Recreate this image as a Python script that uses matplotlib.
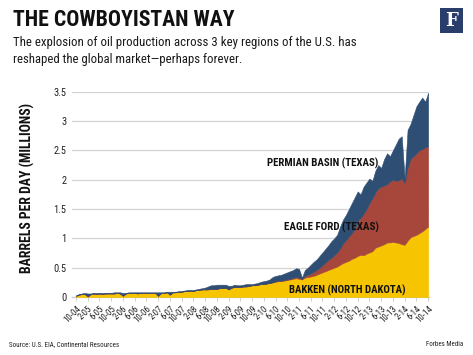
import matplotlib
matplotlib.use("Agg")
import matplotlib.pyplot as plt
from matplotlib import font_manager as fm
from matplotlib.patches import Rectangle

# ---------------- data (million barrels per day, monthly 10-04 .. 10-14) ----------------
tick_labels = ["10-04", "2-05", "6-05", "10-05", "2-06", "6-06", "10-06", "2-07", "6-07",
               "10-07", "2-08", "6-08", "10-08", "2-09", "6-09", "10-09", "2-10", "6-10",
               "10-10", "2-11", "6-11", "10-11", "2-12", "6-12", "10-12", "2-13", "6-13",
               "10-13", "2-14", "6-14", "10-14"]

bakken = [
    0.02, 0.04, 0.05, 0.05, 0.01, 0.05, 0.06, 0.05, 0.06, 0.05, 0.06, 0.06,
    0.06, 0.06, 0.07, 0.06, 0.02, 0.06, 0.07, 0.07, 0.07, 0.06, 0.07, 0.07,
    0.07, 0.07, 0.07, 0.07, 0.02, 0.07, 0.07, 0.08, 0.04, 0.08, 0.08, 0.09,
    0.09, 0.10, 0.10, 0.11, 0.10, 0.12, 0.12, 0.13, 0.13, 0.13, 0.14, 0.14,
    0.14, 0.15, 0.15, 0.16, 0.13, 0.16, 0.17, 0.17, 0.17, 0.18, 0.18, 0.19,
    0.20, 0.20, 0.21, 0.22, 0.22, 0.23, 0.24, 0.25, 0.26, 0.27, 0.27, 0.28,
    0.29, 0.30, 0.31, 0.32, 0.31, 0.30, 0.33, 0.34, 0.35, 0.36, 0.38, 0.40,
    0.42, 0.44, 0.46, 0.48, 0.50, 0.52, 0.55, 0.58, 0.60, 0.62, 0.65, 0.67,
    0.70, 0.72, 0.71, 0.74, 0.76, 0.78, 0.84, 0.86, 0.88, 0.90, 0.93, 0.93,
    0.94, 0.93, 0.92, 0.90, 0.89, 0.96, 1.02, 1.04, 1.06, 1.09, 1.12, 1.16, 1.20]

eagle_ford = [
    0, 0, 0, 0, 0, 0, 0, 0, 0, 0, 0, 0,
    0, 0, 0, 0, 0, 0, 0, 0, 0, 0, 0, 0,
    0, 0, 0, 0, 0, 0, 0, 0, 0, 0, 0, 0,
    0, 0, 0, 0, 0, 0, 0, 0, 0, 0, 0, 0,
    0, 0, 0, 0, 0, 0, 0, 0, 0, 0, 0, 0,
    0, 0, 0, 0, 0, 0, 0, 0, 0.01, 0.01, 0.01, 0.01,
    0.01, 0.01, 0.02, 0.02, 0.02, 0.01, 0.03, 0.04, 0.05, 0.07, 0.08, 0.10,
    0.12, 0.15, 0.17, 0.19, 0.21, 0.24, 0.28, 0.33, 0.37, 0.41, 0.44, 0.48,
    0.60, 0.63, 0.71, 0.76, 0.84, 0.90, 0.94, 0.99, 1.00, 1.00, 0.99, 1.04,
    1.06, 1.05, 1.07, 1.12, 1.05, 1.24, 1.34, 1.36, 1.39, 1.41, 1.40, 1.39, 1.37]

permian = [
    0.01, 0.01, 0.01, 0.02, 0.05, 0.01, 0.01, 0.02, 0.01, 0.02, 0.01, 0.01,
    0.01, 0.02, 0.01, 0.02, 0.05, 0.01, 0.01, 0.01, 0.01, 0.02, 0.01, 0.01,
    0.01, 0.01, 0.01, 0.01, 0.06, 0.01, 0.01, 0.01, 0.05, 0.01, 0.01, 0.01,
    0.01, 0.01, 0.02, 0.01, 0.02, 0.01, 0.02, 0.02, 0.03, 0.05, 0.06, 0.06,
    0.07, 0.06, 0.06, 0.05, 0.06, 0.03, 0.04, 0.03, 0.03, 0.03, 0.04, 0.03,
    0.02, 0.03, 0.03, 0.04, 0.05, 0.05, 0.06, 0.09, 0.09, 0.09, 0.10, 0.11,
    0.12, 0.13, 0.13, 0.15, 0.15, 0.02, 0.10, 0.12, 0.15, 0.17, 0.18, 0.20,
    0.22, 0.23, 0.25, 0.28, 0.29, 0.30, 0.37, 0.41, 0.43, 0.47, 0.51, 0.55,
    0.50, 0.40, 0.46, 0.45, 0.42, 0.30, 0.37, 0.40, 0.32, 0.45, 0.53, 0.43,
    0.50, 0.62, 0.71, 0.72, 0.08, 0.65, 0.59, 0.70, 0.80, 0.83, 0.88, 0.78, 0.91]

y_ticks = [0, 0.5, 1, 1.5, 2, 2.5, 3, 3.5]
y_tick_labels = ["0", "0.5", "1", "1.5", "2", "2.5", "3", "3.5"]

months = list(range(len(bakken)))
tick_pos = months[::4]

# ---------------- fonts ----------------
names = {f.name for f in fm.fontManager.ttflist}
cond = None
for n in ["Roboto Condensed", "Liberation Sans Narrow", "Open Sans Condensed", "Noto Sans Condensed"]:
    if n in names:
        cond = n
        break
has_dv_cond = any(f.name == "DejaVu Sans" and f.stretch == "condensed" for f in fm.fontManager.ttflist)
if cond is None:
    cond = "DejaVu Sans"
STRETCH = "condensed" if (cond == "DejaVu Sans" and has_dv_cond) else "normal"
plt.rcParams["font.family"] = [cond, "DejaVu Sans"]

W, H = 473, 355
fig = plt.figure(figsize=(W / 100, H / 100), dpi=100)
fig.patch.set_facecolor("white")


def fx(px):
    return px / W


def fy(py):
    return 1 - py / H


# axes: left gridline start x=72, m=120 at x=428; y=0 at 297, 3.5 at 91.7
ax_l, ax_r, ax_b, ax_t = 72, 429, 297, 91.7
ax_w = (ax_r - ax_l) / W
ax = fig.add_axes([fx(ax_l), fy(ax_b), ax_w, (ax_b - ax_t) / H])

YEL, RED, BLU = "#F6C400", "#A7463A", "#2E4E73"
ax.stackplot(months, bakken, eagle_ford, permian, colors=[YEL, RED, BLU],
             linewidth=0.4, edgecolor="face", zorder=3)

ax.set_ylim(0, 3.5)
ax.set_xlim(-1.36, 120.3)
ax.set_yticks(y_ticks)
ax.set_yticklabels(y_tick_labels)
ax.yaxis.grid(True, color="#d4d4d4", linewidth=0.9, zorder=0)
ax.set_axisbelow(True)
for sp in ["left", "right", "top"]:
    ax.spines[sp].set_visible(False)
ax.spines["bottom"].set_color("#c8c8c8")
ax.spines["bottom"].set_linewidth(0.9)
ax.tick_params(axis="y", length=0, pad=4, labelsize=7.5, labelcolor="#222222")
ax.set_xticks(tick_pos)
ax.set_xticklabels(tick_labels, rotation=45, ha="right", va="top",
                   rotation_mode="anchor", fontsize=6.4, color="#222222")
ax.tick_params(axis="x", length=3, width=0.6, color="#c8c8c8", pad=2)
for lab in ax.get_xticklabels() + ax.get_yticklabels():
    lab.set_fontstretch(STRETCH)

ax.set_ylabel("BARRELS PER DAY (MILLIONS)", fontsize=9.5, fontweight="bold",
              fontstretch=STRETCH, color="#111111", va="center")
ax.yaxis.set_label_coords((27.5 - ax_l) / (ax_r - ax_l), (297 - 187.5) / (ax_b - ax_t))


# annotations (data coordinates)
def lab(x, y, s):
    return ax.text(x, y, s, fontsize=7.5, fontweight="bold", fontstretch=STRETCH,
                   color="#111111", ha="left", va="center", zorder=5)


t_perm = lab(65.1, 2.28, "PERMIAN BASIN (TEXAS)")
t_eagle = lab(70.8, 1.19, "EAGLE FORD (TEXAS)")
t_bak = lab(72.6, 0.12, "BAKKEN (NORTH DAKOTA)")

# header texts
title = fig.text(fx(13), fy(26), "THE COWBOYISTAN WAY", fontsize=18, fontweight="bold",
                 fontstretch=STRETCH, color="#111111", ha="left", va="baseline")
sub1 = fig.text(fx(13), fy(46), "The explosion of oil production across 3 key regions of the U.S. has",
                fontsize=10, fontstretch=STRETCH, color="#1a1a1a", ha="left", va="baseline")
sub2 = fig.text(fx(13), fy(63.5), "reshaped the global market\u2014perhaps forever.",
                fontsize=10, fontstretch=STRETCH, color="#1a1a1a", ha="left", va="baseline")
src = fig.text(fx(9), fy(345), "Source: U.S. EIA, Continental Resources", fontsize=6,
               fontstretch=STRETCH, color="#222222", ha="left", va="center")
fbm = fig.text(fx(463), fy(344), "Forbes Media", fontsize=6, fontstretch=STRETCH,
               color="#222222", ha="right", va="center")

# Forbes logo
fig.patches.append(Rectangle((fx(439.5), fy(32.5)), fx(23.5), 24.5 / H, transform=fig.transFigure,
                             facecolor="#2A3E6B", edgecolor="none"))
fig.text(fx(451.3), fy(20.5), "F", fontsize=13, fontweight="bold",
         family=["DejaVu Serif"], color="white", ha="center", va="center")

# fit text widths to the reference
fig.canvas.draw()
r = fig.canvas.get_renderer()
targets = [(title, 222), (sub1, 340), (sub2, 227), (src, 110), (fbm, 37),
           (t_perm, 111), (t_eagle, 95), (t_bak, 116)]
for t, w in targets:
    bb = t.get_window_extent(r)
    if bb.width > 0:
        t.set_fontsize(t.get_fontsize() * w / bb.width)
ylab = ax.yaxis.label
bb = ylab.get_window_extent(r)
if bb.height > 0:
    ylab.set_fontsize(ylab.get_fontsize() * 171 / bb.height)

fig.savefig("out.png", dpi=100, facecolor="white")
